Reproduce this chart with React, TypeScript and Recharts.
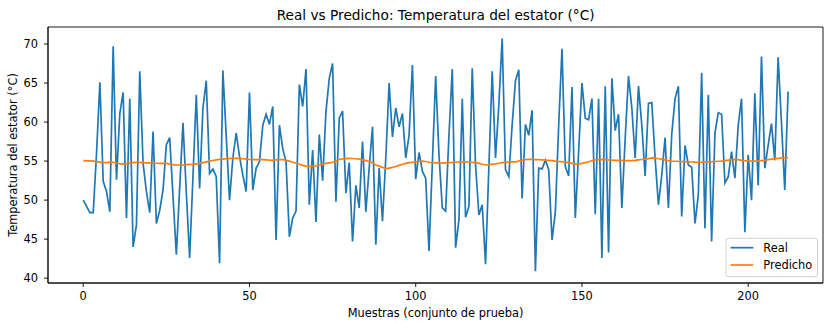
import React from "react";
import { LineChart, Line, XAxis, YAxis, ReferenceArea, Label } from "recharts";

const realValues: number[] = [
  50.0, 49.2, 48.4, 48.4, 56.0, 65.1, 52.4, 51.1, 48.5, 69.7,
  52.6, 61.1, 63.8, 47.7, 63.0, 44.0, 46.8, 66.5, 54.7, 51.1,
  48.4, 58.8, 47.0, 48.7, 51.3, 57.1, 58.0, 50.5, 43.0, 51.5,
  59.9, 51.0, 42.6, 53.0, 63.5, 51.5, 61.8, 65.3, 53.4, 54.0,
  53.0, 41.9, 66.6, 58.3, 50.0, 55.4, 58.6, 55.6, 53.2, 51.1,
  63.8, 51.3, 54.1, 54.9, 59.6, 61.0, 59.7, 62.0, 44.9, 59.6,
  56.6, 54.9, 45.3, 47.7, 48.6, 64.8, 62.0, 66.8, 49.4, 56.4,
  47.2, 58.4, 52.5, 61.3, 65.6, 67.5, 49.8, 60.5, 61.4, 50.9,
  54.8, 44.7, 51.9, 49.0, 57.5, 48.5, 54.1, 59.4, 44.3, 54.1,
  47.3, 55.4, 65.0, 58.1, 61.8, 59.4, 61.1, 55.4, 58.3, 67.3,
  52.7, 56.1, 53.7, 52.8, 43.5, 54.7, 65.9, 55.8, 49.0, 48.6,
  58.3, 66.8, 43.9, 47.5, 63.0, 47.8, 49.2, 66.9, 54.5, 48.1,
  49.4, 41.8, 54.2, 66.5, 55.4, 62.2, 70.7, 53.9, 53.0, 59.6,
  65.3, 66.7, 50.2, 59.7, 58.3, 61.5, 40.9, 54.1, 54.0, 55.1,
  53.9, 44.9, 48.5, 59.6, 69.4, 54.3, 53.1, 64.5, 47.7, 56.2,
  65.0, 60.5, 60.3, 63.0, 48.2, 63.0, 42.6, 64.6, 43.3, 65.6,
  58.9, 61.0, 49.0, 57.9, 65.9, 61.8, 55.4, 64.6, 59.6, 53.1,
  62.4, 62.5, 55.4, 49.4, 53.2, 58.0, 49.0, 58.4, 63.0, 64.6,
  47.9, 57.0, 54.5, 54.2, 47.0, 50.7, 66.3, 46.4, 63.5, 44.7,
  58.6, 61.2, 61.0, 52.2, 53.0, 56.2, 52.8, 59.6, 63.0, 45.9,
  55.8, 50.0, 63.7, 51.9, 68.4, 54.1, 57.0, 59.8, 55.1, 68.3,
  60.0, 51.3, 63.9,
];

const predictedValues: number[] = [
  55.05, 55.04, 55.02, 55.0, 54.93, 54.86, 54.82, 54.8, 54.88, 54.85,
  54.75, 54.68, 54.62, 54.66, 54.74, 54.8, 54.84, 54.82, 54.8, 54.78,
  54.76, 54.74, 54.72, 54.7, 54.72, 54.7, 54.62, 54.55, 54.5, 54.5,
  54.52, 54.55, 54.58, 54.6, 54.65, 54.7, 54.8, 54.9, 55.0, 55.08,
  55.15, 55.22, 55.26, 55.3, 55.33, 55.35, 55.36, 55.35, 55.3, 55.25,
  55.2, 55.18, 55.2, 55.2, 55.18, 55.15, 55.12, 55.1, 55.15, 55.18,
  55.2, 55.1, 55.0, 54.85, 54.72, 54.6, 54.45, 54.35, 54.33, 54.36,
  54.4, 54.5, 54.6, 54.7, 54.78, 54.85, 55.0, 55.2, 55.28, 55.32,
  55.35, 55.33, 55.3, 55.25, 55.15, 55.05, 54.95, 54.8, 54.5, 54.35,
  54.2, 54.0, 54.1, 54.2, 54.3, 54.45, 54.6, 54.7, 54.8, 54.85,
  54.9, 54.95, 55.0, 54.95, 54.85, 54.8, 54.78, 54.76, 54.75, 54.78,
  54.8, 54.82, 54.85, 54.88, 54.9, 54.9, 54.88, 54.84, 54.8, 54.7,
  54.6, 54.5, 54.55, 54.6, 54.65, 54.72, 54.8, 54.85, 54.88, 54.9,
  54.9, 55.0, 55.1, 55.2, 55.22, 55.22, 55.2, 55.18, 55.15, 55.12,
  55.1, 55.05, 55.0, 54.95, 54.93, 54.88, 54.8, 54.7, 54.6, 54.62,
  54.7, 54.8, 54.92, 55.05, 55.15, 55.2, 55.22, 55.2, 55.15, 55.12,
  55.1, 55.1, 55.08, 55.05, 55.05, 55.05, 55.08, 55.15, 55.2, 55.25,
  55.32, 55.4, 55.38, 55.3, 55.25, 55.15, 55.05, 55.0, 54.98, 54.96,
  54.95, 54.92, 54.9, 54.88, 54.86, 54.85, 54.85, 54.88, 54.9, 54.92,
  54.95, 54.98, 55.0, 55.05, 55.12, 55.2, 55.22, 55.18, 55.1, 55.05,
  55.02, 55.0, 55.0, 55.02, 55.06, 55.1, 55.18, 55.25, 55.3, 55.35,
  55.4, 55.43, 55.46,
];

const xTicks: number[] = [0, 50, 100, 150, 200];
const yTicks: number[] = [40, 45, 50, 55, 60, 65, 70];
const seriesNames: string[] = ["Real", "Predicho"];
const titleText = "Real vs Predicho: Temperatura del estator (°C)";
const xLabelText = "Muestras (conjunto de prueba)";
const yLabelText = "Temperatura del estator (°C)";

const data = realValues.map((r, i) => ({ i, real: r, pred: predictedValues[i] }));

const FONT = "DejaVu Sans, sans-serif";
const BLUE = "#1f77b4";
const ORANGE = "#ff7f0e";
const X_DOMAIN: [number, number] = [-10.6, 222.5];
const Y_DOMAIN: [number, number] = [39.38, 72.18];

export default function App() {
  return (
    <div style={{ position: "absolute", left: 0, top: 0, width: 831, height: 328, background: "#fff" }}>
      <LineChart
        width={831}
        height={328}
        data={data}
        margin={{ top: 27, right: 8, bottom: 0, left: 0 }}
      >
        <XAxis
          dataKey="i"
          type="number"
          domain={X_DOMAIN}
          ticks={xTicks}
          allowDataOverflow
          height={45}
          tickSize={4}
          tickMargin={5}
          axisLine={{ stroke: "#000", strokeWidth: 0.9 }}
          tickLine={{ stroke: "#000", strokeWidth: 0.9 }}
          tick={{ fill: "#000", fontSize: 11.4, fontFamily: FONT }}
          label={
            <Label
              content={() => (
                <text x={435.6} y={317} textAnchor="middle" fontSize={11.4} fontFamily={FONT} fill="#000">
                  {xLabelText}
                </text>
              )}
            />
          }
        />
        <YAxis
          type="number"
          domain={Y_DOMAIN}
          ticks={yTicks}
          allowDataOverflow
          width={48}
          tickSize={4}
          tickMargin={6}
          axisLine={{ stroke: "#000", strokeWidth: 0.9 }}
          tickLine={{ stroke: "#000", strokeWidth: 0.9 }}
          tick={{ fill: "#000", fontSize: 11.4, fontFamily: FONT }}
          label={
            <Label
              content={() => (
                <text
                  x={17}
                  y={155}
                  transform="rotate(-90 17 155)"
                  textAnchor="middle"
                  fontSize={11.4}
                  fontFamily={FONT}
                  fill="#000"
                >
                  {yLabelText}
                </text>
              )}
            />
          }
        />
        <ReferenceArea
          x1={X_DOMAIN[0]}
          x2={X_DOMAIN[1]}
          y1={Y_DOMAIN[0]}
          y2={Y_DOMAIN[1]}
          fill="none"
          fillOpacity={0}
          stroke="#000"
          strokeWidth={0.9}
          ifOverflow="visible"
        />
        <Line
          type="linear"
          dataKey="real"
          name={seriesNames[0]}
          stroke={BLUE}
          strokeWidth={1.7}
          dot={false}
          activeDot={false}
          isAnimationActive={false}
        />
        <Line
          type="linear"
          dataKey="pred"
          name={seriesNames[1]}
          stroke={ORANGE}
          strokeWidth={1.7}
          dot={false}
          activeDot={false}
          isAnimationActive={false}
        />
      </LineChart>
      <svg
        width={831}
        height={328}
        style={{ position: "absolute", left: 0, top: 0, pointerEvents: "none" }}
      >
        <text x={435.6} y={20} textAnchor="middle" fontSize={13.7} fontFamily={FONT} fill="#000">
          {titleText}
        </text>
        <rect x={726} y={238.3} width={91.5} height={38.4} rx={2.5} fill="#fff" fillOpacity={0.8} stroke="#cccccc" strokeWidth={0.9} />
        <line x1={730.5} y1={247.7} x2={753.3} y2={247.7} stroke={BLUE} strokeWidth={1.7} />
        <text x={763.3} y={251.8} fontSize={11.4} fontFamily={FONT} fill="#000">
          {seriesNames[0]}
        </text>
        <line x1={730.5} y1={265} x2={753.3} y2={265} stroke={ORANGE} strokeWidth={1.7} />
        <text x={763.3} y={269.1} fontSize={11.4} fontFamily={FONT} fill="#000">
          {seriesNames[1]}
        </text>
      </svg>
    </div>
  );
}
